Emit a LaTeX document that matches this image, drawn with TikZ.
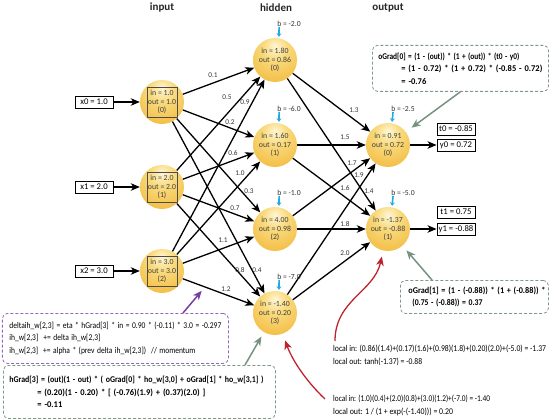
\documentclass[tikz,border=0pt]{standalone}
\usepackage{fontspec}
\usepackage{graphicx}
\setmainfont{Carlito}
\usetikzlibrary{arrows.meta,calc}
\definecolor{ballA}{RGB}{254,246,215}
\definecolor{ballB}{RGB}{249,218,125}
\definecolor{ballC}{RGB}{243,190,70}
\definecolor{ballD}{RGB}{228,160,40}
\definecolor{biascol}{RGB}{35,170,220}
\definecolor{notegreen}{RGB}{128,152,138}
\definecolor{notegreenarrow}{RGB}{118,146,128}
\definecolor{notepurple}{RGB}{150,100,190}
\definecolor{purplearrow}{RGB}{118,62,165}
\definecolor{redarrow}{RGB}{190,35,45}
\pgfdeclareradialshading{ballshade}{\pgfpoint{0bp}{16bp}}{color(0bp)=(ballA); color(14bp)=(ballB); color(36bp)=(ballC); color(66bp)=(ballD); color(100bp)=(ballD)}
\newcommand\myfs[2]{\fontsize{#1}{#2}\selectfont}
\newcommand\fitw[2]{\resizebox{#1pt}{\height}{#2}}
\tikzset{
  neuron/.style={circle, minimum size=44pt, inner sep=0pt, shading=ballshade, align=center,
    font=\myfs{7.8}{8.2}, text=black!75},
  inputsq/.style={path picture={\draw[line width=0.7pt, black!70]
    ([shift={(-15pt,-15pt)}]path picture bounding box.center) rectangle ++(30pt,30pt);}},
  valbox/.style={draw, line width=0.9pt, minimum width=38pt, minimum height=12pt, inner sep=0pt,
    font=\myfs{8.7}{9}},
  conn/.style={line width=1.3pt, -{Stealth[length=9pt,width=7.5pt,inset=2.5pt]}},
  wlabel/.style={font=\myfs{7.3}{8}, inner sep=0pt, text=black!80},
  biaslabel/.style={font=\myfs{7.7}{8}, inner sep=0pt, text=black!80},
  biasarrow/.style={biascol, line width=1.6pt, shorten >=1pt, -{Stealth[length=3.5pt,width=5pt]}},
  header/.style={font=\bfseries\myfs{11}{12}, text=black!85, inner sep=0pt},
  note/.style={draw, dash pattern=on 3pt off 2pt, rounded corners=5pt, line width=0.8pt,
    anchor=north west, align=left, inner ysep=0pt, font=\myfs{8.8}{12.5}},
  plaintext/.style={anchor=north west, align=left, inner sep=0pt, font=\myfs{8.8}{12.5}},
  garrow/.style={notegreenarrow, line width=1.5pt, -{Stealth[length=9pt,width=7.5pt,inset=2.5pt]}},
  parrow/.style={purplearrow, line width=1.5pt, -{Stealth[length=9pt,width=7.5pt,inset=2.5pt]}},
  rarrow/.style={redarrow, line width=1.3pt, -{Stealth[length=9pt,width=7.5pt,inset=2.5pt]}},
}
\begin{document}
\begin{tikzpicture}[x=1pt,y=-1pt]
\useasboundingbox (0,0) rectangle (550,420);

% headers
\node[header] (hin) at (162,8) {input};
\node[header] (hhid) at (276,8) {hidden};
\node[header] (hout) at (388,8) {output};

% input neurons
\node[neuron, inputsq] (i0) at (162,102) {in = 1.0\\out = 1.0\\(0)};
\node[neuron, inputsq] (i1) at (162,187) {in = 2.0\\out = 2.0\\(1)};
\node[neuron, inputsq] (i2) at (162,271) {in = 3.0\\out = 3.0\\(2)};

% hidden neurons
\node[neuron] (h0) at (275,60) {in = 1.80\\out = 0.86\\(0)};
\node[neuron] (h1) at (275,145) {in = 1.60\\out = 0.17\\(1)};
\node[neuron] (h2) at (275,229) {in = 4.00\\out = 0.98\\(2)};
\node[neuron] (h3) at (275,313) {in = -1.40\\out = 0.20\\(3)};

% output neurons
\node[neuron] (o0) at (388,145) {in = 0.91\\out = 0.72\\(0)};
\node[neuron] (o1) at (388,229) {in = -1.37\\out = -0.88\\(1)};

% input value boxes
\node[valbox] (x0) at (94,102) {x0 = 1.0};
\node[valbox] (x1) at (94,187) {x1 = 2.0};
\node[valbox] (x2) at (94,271) {x2 = 3.0};
\draw[conn] (x0) -- (i0);
\draw[conn] (x1) -- (i1);
\draw[conn] (x2) -- (i2);

% output value boxes
\node[valbox] (t0) at (456,129) {t0 = -0.85};
\node[valbox] (y0) at (456,145) {y0 = 0.72};
\node[valbox] (t1) at (456,212) {t1 = 0.75};
\node[valbox] (y1) at (456,229) {y1 = -0.88};
\draw[conn] (o0) -- (y0);
\draw[conn] (o1) -- (y1);

% input -> hidden
\foreach \s in {0,1,2}{
  \foreach \t in {0,1,2,3}{
    \draw[conn] (i\s) -- (h\t);
  }
}
% hidden -> output
\foreach \s in {0,1,2,3}{
  \foreach \t in {0,1}{
    \draw[conn] (h\s) -- (o\t);
  }
}

% weight labels input->hidden
\node[wlabel] (w00) at (213,75) {0.1};
\node[wlabel] (w10) at (227,97) {0.5};
\node[wlabel] (w20) at (245,102) {0.9};
\node[wlabel] (w01) at (230,122) {0.2};
\node[wlabel] (w11) at (233,153) {0.6};
\node[wlabel] (w21) at (240,173) {1.0};
\node[wlabel] (w02) at (249,191) {0.3};
\node[wlabel] (w12) at (235,208) {0.7};
\node[wlabel] (w22) at (223,240) {1.1};
\node[wlabel] (w13) at (240,270) {0.8};
\node[wlabel] (w03) at (257,270) {0.4};
\node[wlabel] (w23l) at (226,289) {1.2};

% weight labels hidden->output
\node[wlabel] (v00) at (354,110) {1.3};
\node[wlabel] (v10) at (345,137) {1.5};
\node[wlabel] (v20) at (352,163) {1.7};
\node[wlabel] (v30) at (359,175) {1.9};
\node[wlabel] (v11) at (345,188) {1.6};
\node[wlabel] (v01) at (369,191) {1.4};
\node[wlabel] (v21) at (345,224) {1.8};
\node[wlabel] (v31) at (345,253) {2.0};

% biases
\node[biaslabel] (bh0) at ($(h0)+(14,-36)$) {b = -2.0};
\node[biaslabel] (bh1) at ($(h1)+(14,-36)$) {b = -6.0};
\node[biaslabel] (bh2) at ($(h2)+(14,-36)$) {b = -1.0};
\node[biaslabel] (bh3) at ($(h3)+(14,-36)$) {b = -7.0};
\node[biaslabel] (bo0) at ($(o0)+(15,-36)$) {b = -2.5};
\node[biaslabel] (bo1) at ($(o1)+(15,-36)$) {b = -5.0};
\draw[biasarrow] ([xshift=2pt]bh0.south west) -- ([xshift=4pt]h0.north);
\draw[biasarrow] ([xshift=2pt]bh1.south west) -- ([xshift=4pt]h1.north);
\draw[biasarrow] ([xshift=2pt]bh2.south west) -- ([xshift=4pt]h2.north);
\draw[biasarrow] ([xshift=2pt]bh3.south west) -- ([xshift=4pt]h3.north);
\draw[biasarrow] ([xshift=2pt]bo0.south west) -- ([xshift=4pt]o0.north);
\draw[biasarrow] ([xshift=2pt]bo1.south west) -- ([xshift=4pt]o1.north);

% notes
\node[note, notegreen, text=black, minimum width=176pt, minimum height=46pt, inner xsep=6pt, text width=164pt] (A) at (372,45)
 {\bfseries\fitw{141}{oGrad[0] = (1 - (out)) * (1 + (out)) * (t0 - y0)}\\
  \hspace*{23pt}\fitw{141}{= (1 - 0.72) * (1 + 0.72) * (-0.85 - 0.72)}\\
  \hspace*{23pt}\fitw{25}{= -0.76}};
\node[note, notegreen, text=black, minimum width=148pt, minimum height=33pt, inner xsep=8pt, text width=132pt] (B) at (400,280)
 {\bfseries\fitw{137}{oGrad[1] = (1 - (-0.88)) * (1 + (-0.88)) *}\\
  \hspace*{4pt}\fitw{70}{(0.75 - (-0.88)) = 0.37}};
\node[note, notepurple, text=black, minimum width=226pt, minimum height=50pt, inner xsep=7pt, text width=212pt] (C) at (2,313)
 {\fitw{212}{deltaih\_w[2,3] = eta * hGrad[3] * in = 0.90 * (-0.11) * 3.0 = -0.297}\\
  \fitw{91}{ih\_w[2,3] \ += delta ih\_w[2,3]}\\
  \fitw{186}{ih\_w[2,3] \ += alpha * (prev delta ih\_w[2,3]) \ // momentum}};
\node[note, notegreen, text=black, minimum width=272pt, minimum height=53pt, inner xsep=6pt, text width=260pt] (D) at (3,365)
 {\bfseries\fitw{254}{hGrad[3] = (out)(1 - out) * ( oGrad[0] * ho\_w[3,0] + oGrad[1] * ho\_w[3,1] )}\\
  \hspace*{28pt}\fitw{168}{= (0.20)(1 - 0.20) * [ (-0.76)(1.9) + (0.37)(2.0) ]}\\
  \hspace*{28pt}\fitw{25}{= -0.11}};

\node[plaintext] (E) at (333,345)
 {\fitw{213}{local in: (0.86)(1.4)+(0.17)(1.6)+(0.98)(1.8)+(0.20)(2.0)+(-5.0) = -1.37}\\
  \fitw{89}{local out: tanh(-1.37) = -0.88}};
\node[plaintext] (F) at (333,395)
 {\fitw{157}{local in: (1.0)(0.4)+(2.0)(0.8)+(3.0)(1.2)+(-7.0) = -1.40}\\
  \fitw{120}{local out: 1 / (1 + exp(-(-1.40))) = 0.20}};

% note arrows
\draw[garrow, shorten >=7pt] (A.south) -- (o0);
\draw[garrow, shorten >=6pt] ([xshift=32pt]B.north west) -- (o1);
\coordinate (w23) at ($(i2)!0.38!(h3)$);
\draw[parrow, shorten >=5pt] ([xshift=181pt]C.north west) -- (w23);
\draw[garrow, shorten >=5pt] ([xshift=242pt]D.north west) -- (h3);

% red curved arrows
\coordinate (rs1) at ([shift={(2pt,4pt)}]E.north west);
\coordinate (rs2) at ([shift={(-8pt,-4pt)}]F.north west);
\draw[rarrow, shorten >=6pt] (rs1) .. controls (335,300) and (374,292) .. (o1);
\draw[rarrow, shorten >=7pt] (rs2) .. controls (308,383) and (293,362) .. (h3);

\end{tikzpicture}
\end{document}
